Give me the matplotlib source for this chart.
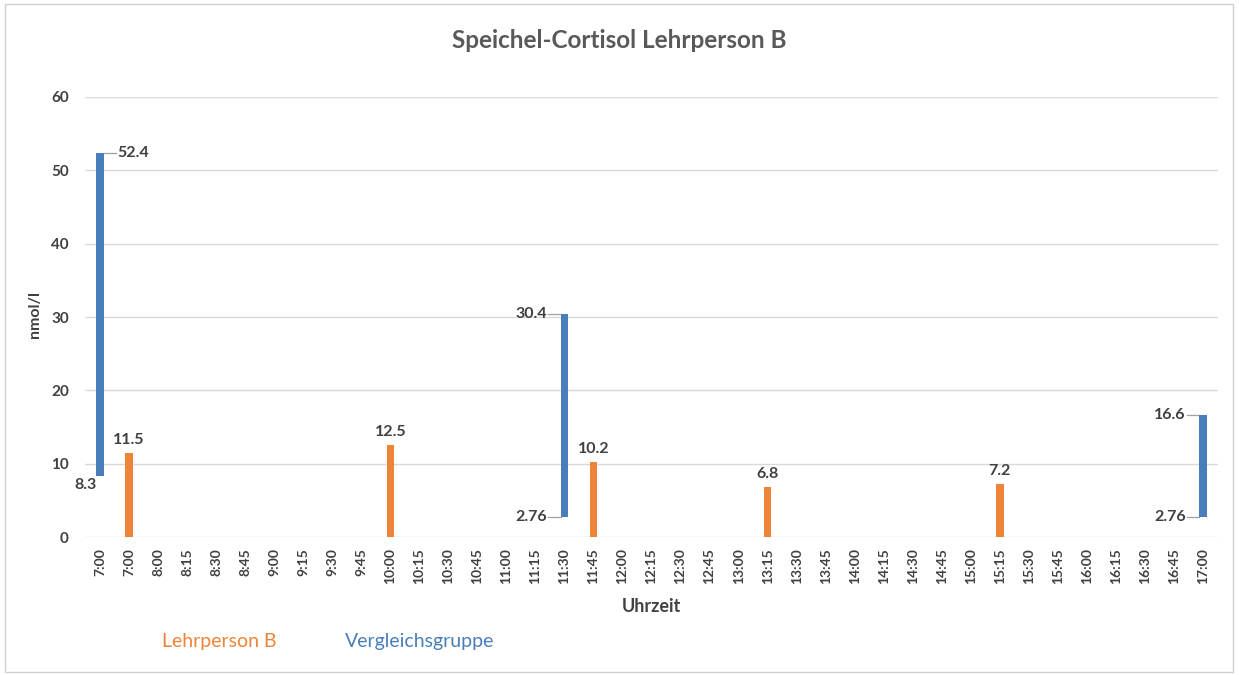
import matplotlib.pyplot as plt
import numpy as np

plt.rcParams['font.family'] = ['Lato', 'DejaVu Sans']

# x categories (the first time appears twice in the original)
times = ["7:00", "7:00", "8:00", "8:15", "8:30", "8:45", "9:00", "9:15", "9:30", "9:45",
         "10:00", "10:15", "10:30", "10:45", "11:00", "11:15", "11:30", "11:45", "12:00",
         "12:15", "12:30", "12:45", "13:00", "13:15", "13:30", "13:45", "14:00", "14:15",
         "14:30", "14:45", "15:00", "15:15", "15:30", "15:45", "16:00", "16:15", "16:30",
         "16:45", "17:00"]

# Lehrperson B measurements
teacher_times = ["7:00", "10:00", "11:45", "13:15", "15:15"]
teacher_vals = [11.5, 12.5, 10.2, 6.8, 7.2]

# Vergleichsgruppe ranges (min - max)
group_idx = [0, 16, 38]
group_low = [8.3, 2.76, 2.76]
group_high = [52.4, 30.4, 16.6]

orange = '#EE8437'
blue = '#4A7EBB'
text_col = '#404040'

fig = plt.figure(figsize=(12.39, 6.75), dpi=100)
ax = fig.add_axes([0.069, 0.2044, 0.9137, 0.6519])

x = np.arange(len(times))
# second "7:00" slot belongs to the teacher
teacher_idx = [1] + [times.index(t) for t in teacher_times[1:]]

bw = 0.26
ax.bar(teacher_idx, teacher_vals, width=bw, color=orange, zorder=3)
ax.bar(group_idx, np.array(group_high) - np.array(group_low), bottom=group_low,
       width=bw, color=blue, zorder=3)

lab_fs = 11.5
for i, v in zip(teacher_idx, teacher_vals):
    ax.text(i, v + 0.8, f"{v:g}", ha='center', va='bottom', fontsize=lab_fs,
            fontweight='bold', color=text_col)

# labels for the range bars
lead = dict(color='#a0a0a0', lw=0.9)
# first bar: top label to the right, bottom label below-left
i, lo, hi = group_idx[0], group_low[0], group_high[0]
ax.plot([i + bw / 2, i + 0.55], [hi, hi], **lead, zorder=2)
ax.text(i + 0.6, hi, f"{hi:g}", ha='left', va='center', fontsize=lab_fs,
        fontweight='bold', color=text_col)
ax.text(i - 0.1, lo - 0.2, f"{lo:g}", ha='right', va='top', fontsize=lab_fs,
        fontweight='bold', color=text_col)
# other bars: labels to the left with leader lines
for i, lo, hi in zip(group_idx[1:], group_low[1:], group_high[1:]):
    for v in (lo, hi):
        ax.plot([i - 0.55, i - bw / 2], [v, v], **lead, zorder=2)
        ax.text(i - 0.6, v, f"{v:g}", ha='right', va='center', fontsize=lab_fs,
                fontweight='bold', color=text_col)

ax.set_xlim(-0.5, len(times) - 0.5)
ax.set_ylim(0, 60)
ax.set_yticks(range(0, 61, 10))
ax.set_xticks(x)
ax.set_xticklabels(times, rotation=90, fontsize=10, fontweight='bold', color=text_col)
for lab in ax.get_yticklabels():
    lab.set_fontweight('bold')
    lab.set_fontsize(11)
    lab.set_color(text_col)
ax.tick_params(axis='both', length=0)
ax.tick_params(axis='y', pad=12)
ax.tick_params(axis='x', pad=8)
ax.grid(axis='y', color='#d9d9d9', lw=1, zorder=0)
for s in ax.spines.values():
    s.set_visible(False)

ax.set_xlabel("Uhrzeit", fontsize=13, fontweight='bold', color=text_col, labelpad=10)
fig.text(35 / 1239, 1 - 315 / 675, "nmol/l", rotation=90, ha='center', va='center',
         fontsize=11.5, fontweight='bold', color=text_col)

fig.text(0.5, 1 - 40 / 675, "Speichel-Cortisol Lehrperson B", ha='center', va='center',
         fontsize=17.5, fontweight='bold', color='#595959')

# legend as coloured text
fig.text(162 / 1239, 1 - 641 / 675, "Lehrperson B", color=orange, fontsize=14, va='center')
fig.text(345 / 1239, 1 - 641 / 675, "Vergleichsgruppe", color=blue, fontsize=14, va='center')

# frame around the chart
fig.patches.append(plt.Rectangle((5 / 1239, 3 / 675), 1228 / 1239, 668 / 675,
                                 transform=fig.transFigure, fill=False,
                                 edgecolor='#d0d0d0', lw=1))

fig.savefig("out.png", dpi=100)
